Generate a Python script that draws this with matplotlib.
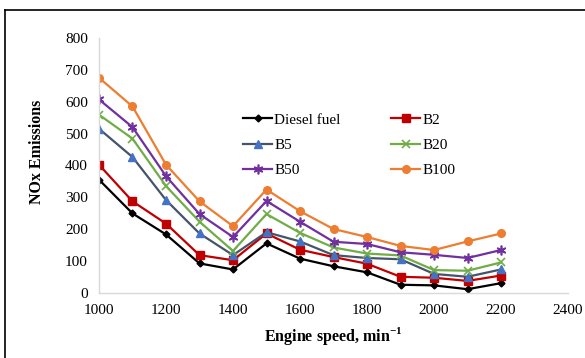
import matplotlib.pyplot as plt
from matplotlib.lines import Line2D

# engine speed, min^-1
speed = [1000, 1100, 1200, 1300, 1400, 1500, 1600, 1700, 1800, 1900, 2000, 2100, 2200]

# NOx emissions per fuel
diesel = [355, 249, 183, 92, 73, 155, 107, 83, 64, 25, 23, 11, 30]
b2 = [402, 287, 217, 118, 102, 186, 135, 112, 91, 50, 47, 37, 54]
b5 = [515, 426, 291, 186, 118, 190, 161, 118, 109, 105, 59, 50, 73]
b20 = [559, 484, 335, 223, 131, 247, 188, 142, 123, 117, 71, 69, 95]
b50 = [607, 520, 366, 247, 175, 288, 223, 160, 153, 127, 119, 109, 134]
b100 = [675, 585, 402, 287, 209, 324, 256, 200, 175, 147, 134, 161, 186]

x_ticks = [1000, 1200, 1400, 1600, 1800, 2000, 2200, 2400]
y_ticks = [0, 100, 200, 300, 400, 500, 600, 700, 800]

plt.rcParams['font.family'] = ['Liberation Serif', 'DejaVu Serif']
plt.rcParams['font.size'] = 11
plt.rcParams['mathtext.fontset'] = 'custom'
plt.rcParams['mathtext.rm'] = 'Liberation Serif'
plt.rcParams['mathtext.bf'] = 'Liberation Serif:bold'

fig = plt.figure(figsize=(5.85, 3.58), dpi=100)
ax = fig.add_axes([99 / 585, 1 - 292.7 / 358, 469 / 585, 254.7 / 358])

lw = 1.6
h_d, = ax.plot(speed, diesel, color='black', lw=lw, marker='D', ms=3.5, label='Diesel fuel')
h_b2, = ax.plot(speed, b2, color='#C00000', lw=lw, marker='s', ms=5.5, label='B2')
h_b5, = ax.plot(speed, b5, color='#44546A', lw=lw, marker='^', ms=6,
                mfc='#4472C4', mec='#4472C4', label='B5')
h_b20, = ax.plot(speed, b20, color='#70AD47', lw=lw, marker='x', ms=6, mew=1.2, label='B20')
h_b50, = ax.plot(speed, b50, color='#7030A0', lw=lw, marker=(6, 2, 0), ms=7, mew=1.2, label='B50')
h_b100, = ax.plot(speed, b100, color='#ED7D31', lw=lw, marker='o', ms=5.5, label='B100')

ax.set_xlim(1000, 2400)
ax.set_ylim(0, 800)
ax.set_xticks(x_ticks)
ax.set_yticks(y_ticks)
ax.tick_params(length=0, pad=8, labelsize=11)

for s in ['top', 'right']:
    ax.spines[s].set_visible(False)
for s in ['left', 'bottom']:
    ax.spines[s].set_color('#D9D9D9')
    ax.spines[s].set_linewidth(1)

ax.set_ylabel('NOx Emissions', fontweight='bold', fontsize=11.5)
ax.yaxis.set_label_coords(-0.115, 0.552)
ax.set_xlabel('Engine speed, min$^{\\mathbf{-1}}$', fontweight='bold', fontsize=11.5, labelpad=6)

handles = [h_d, h_b5, h_b50, h_b2, h_b20, h_b100]
ax.legend(handles=handles, ncol=2, frameon=False, loc='upper left',
          bbox_to_anchor=(243 / 585, 1 - 113 / 358), bbox_transform=fig.transFigure,
          borderpad=0, borderaxespad=0, handlelength=1.9, handletextpad=0.15,
          labelspacing=0.76, columnspacing=3.3, fontsize=11)

# outer frame (cropped)
fig.add_artist(Line2D([5 / 585, 5 / 585], [0, 1 - 10 / 358], color='black', lw=1.2,
                      transform=fig.transFigure))
fig.add_artist(Line2D([5 / 585, 1], [1 - 10 / 358, 1 - 10 / 358], color='black', lw=1.2,
                      transform=fig.transFigure))

fig.savefig('out.png', dpi=100)
